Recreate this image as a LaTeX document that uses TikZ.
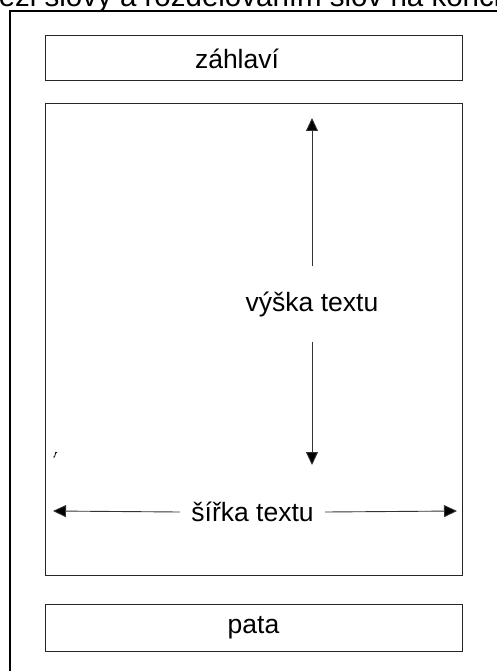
\documentclass[tikz,border=0pt]{standalone}
\usepackage{fontspec}
\setmainfont{Liberation Sans}
\usetikzlibrary{arrows.meta}
\tikzset{
  frame/.style={draw=black, line width=1.1pt},
  box/.style={draw=black!85, line width=1pt, inner sep=0pt},
  lbl/.style={font=\fontsize{26.5}{30}\selectfont, inner sep=0pt},
  dimarrow/.style={draw=black!80, line width=0.9pt,
    -{Triangle[length=13pt,width=12pt,fill=black]}},
}
\begin{document}
\begin{tikzpicture}[x=1pt,y=-1pt]
  \useasboundingbox (0,0) rectangle (497,671);
  \clip (0,0) rectangle (497,671);

  % running text above the page, cut by the edge
  \node[lbl, font=\fontsize{29.5}{32}\selectfont, anchor=base west] (toptext) at (-26,7)
    {mezi slovy a rozdělováním slov na konci};

  % the page
  \draw[frame] (10,11) rectangle (620,800);

  % header
  \node[box, minimum width=417pt, minimum height=45pt] (header) at (253.5,58.5) {};
  \node[lbl] (headertext) at (237,59) {záhlaví};

  % text body
  \node[box, minimum width=417pt, minimum height=471pt] (body) at (253.5,339.5) {};

  % height of the text
  \coordinate (vtop) at (312,118);
  \coordinate (vbot) at (312,465);
  \node[lbl, minimum height=75pt] (vyska) at (312,304) {výška textu};
  \draw[dimarrow] (vyska.north) -- (vtop);
  \draw[dimarrow] (vyska.south) -- (vbot);

  % width of the text
  \coordinate (hleft) at (53,511);
  \coordinate (hright) at (457,511);
  \node[lbl, minimum width=145pt] (sirka) at (252.5,512) {šířka textu};
  \draw[dimarrow] (sirka.west) -- (hleft);
  \draw[dimarrow] (sirka.east) -- (hright);

  % small stray mark
  \draw[line width=0.8pt] (57.2,452.6) -- (55.6,452.6) -- (54.6,457) -- (53,457);

  % footer
  \node[box, lbl, minimum width=417pt, minimum height=47pt] (footer) at (253.5,627.5) {pata};
\end{tikzpicture}
\end{document}
